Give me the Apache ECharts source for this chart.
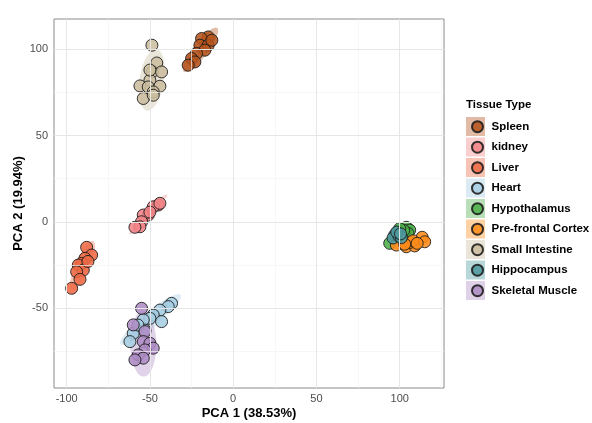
<!DOCTYPE html>
<html><head><meta charset="utf-8">
<script src="https://cdn.jsdelivr.net/npm/echarts@6/dist/echarts.min.js"></script>
<style>html,body{margin:0;padding:0;background:#fff}#c{width:592px;height:423px}</style>
</head><body><div id="c"></div>
<script>
// ---- data (PCA scores) ----
const tissues = ["Spleen","kidney","Liver","Heart","Hypothalamus","Pre-frontal Cortex","Small Intestine","Hippocampus","Skeletal Muscle"];
const colors = ["#B4541E","#F28487","#EE6A45","#A6CEE3","#4DAF4A","#FF8C1A","#CBBD9E","#4E9A9E","#AE8CC4"];
const spleen = [[-15,107.2],[-19,106.3],[-20,102.4],[-15,102.4],[-17,99.5],[-22,97.6],[-25,94.7],[-23,92.7],[-27,90.8],[-12.8,105.3]];
const kidney = [[-45,9.7],[-48,8.7],[-51,3.9],[-54,3.9],[-55,0],[-56,-2.9],[-59,-3.2],[-50,5.6],[-44,10.7]];
const liver = [[-88,-14.8],[-85,-19.3],[-89,-21.2],[-91,-24.1],[-93,-25.1],[-90,-28],[-94,-29],[-92,-33.4],[-97,-38.6],[-87.2,-23]];
const heart = [[-37,-47.3],[-39,-49.2],[-44,-51.2],[-48,-54.1],[-50,-56],[-43,-57.9],[-54,-56.9],[-53,-62.8],[-60,-64.7],[-62,-69.5],[-57.2,-59.9]];
const hypothalamus = [[94,-12.5],[99,-5.5],[104,-3.2],[106,-4.8],[103,-6.5],[101.5,-7.5],[105,-6.8],[102.4,-5],[100,-4]];
const prefrontal = [[98,-13.5],[104,-14.5],[109,-14],[113.5,-9],[115,-11.6],[106,-12],[108,-11],[110.5,-12.5],[103,-13]];
const smallIntestine = [[-48.8,102.4],[-45.9,92.1],[-48.6,86.9],[-43,86.9],[-50,82.1],[-56,78.8],[-51,78.2],[-44,78.6],[-48,75.3],[-54,71.5],[-48,73.4],[-50,88]];
const hippocampus = [[97,-7.7],[96,-9.4],[99.5,-8.3],[101,-9.2],[98.2,-6],[100.5,-7]];
const skeletalMuscle = [[-55,-50.2],[-60,-59.8],[-53,-63.7],[-54,-69.5],[-50,-70.5],[-48,-73.3],[-53,-74.3],[-57,-77.2],[-54,-79.1],[-59,-80.1]];
const groups = [spleen,kidney,liver,heart,hypothalamus,prefrontal,smallIntestine,hippocampus,skeletalMuscle];
const xTicks = [-100,-50,0,50,100];
const yTicks = [-50,0,50,100];
const xMinor = [-75,-25,25,75,125];
const yMinor = [-75,-25,25,75];
const xRange = [-107.6,126.6];
const yRange = [-96.4,117.6];

// ---- robust (multivariate t) ellipse, like stat_ellipse(type="t") ----
function covTrob(pts){
  const nu=5,p=2,n=pts.length;
  let w=new Array(n).fill(1), mx=0,my=0,a=1,b=0,c=1;
  for(let it=0;it<200;it++){
    let sw=0; mx=0; my=0;
    for(let i=0;i<n;i++){sw+=w[i];mx+=w[i]*pts[i][0];my+=w[i]*pts[i][1];}
    mx/=sw; my/=sw;
    a=0;b=0;c=0;
    for(let i=0;i<n;i++){const dx=pts[i][0]-mx,dy=pts[i][1]-my;a+=w[i]*dx*dx;b+=w[i]*dx*dy;c+=w[i]*dy*dy;}
    a/=n;b/=n;c/=n;
    const det=a*c-b*b;
    for(let i=0;i<n;i++){const dx=pts[i][0]-mx,dy=pts[i][1]-my;const q=(c*dx*dx-2*b*dx*dy+a*dy*dy)/det;w[i]=(nu+p)/(nu+q);}
  }
  return {mx,my,a,b,c};
}
const level=0.9;
function ellipse(pts){
  const n=pts.length, d=n-1;
  const f=(d/2)*(Math.pow(1-level,-2/d)-1);
  const r=Math.sqrt(2*f);
  const s=covTrob(pts);
  const r11=Math.sqrt(s.a), r12=s.b/r11, r22=Math.sqrt(Math.max(s.c-r12*r12,1e-9));
  const out=[];
  for(let k=0;k<=60;k++){const t=2*Math.PI*k/60,ct=Math.cos(t),st=Math.sin(t);
    out.push([s.mx+r*ct*r11, s.my+r*(ct*r12+st*r22)]);}
  return out;
}
const ellipses = groups.map(ellipse);

const font='"Liberation Sans", Arial, sans-serif';
const chart=echarts.init(document.getElementById('c'),null,{renderer:'canvas'});
const series=[];
series.push({
  type:'scatter', data:[], silent:true, z:1,
  markLine:{silent:true,symbol:'none',label:{show:false},animation:false,
    data:[
      ...xMinor.map(v=>({xAxis:v,lineStyle:{color:'#f3f3f3',width:0.7,type:'solid'}})),
      ...yMinor.map(v=>({yAxis:v,lineStyle:{color:'#f3f3f3',width:0.7,type:'solid'}})),
      ...xTicks.map(v=>({xAxis:v,lineStyle:{color:'#e6e6e6',width:1,type:'solid'}})),
      ...yTicks.map(v=>({yAxis:v,lineStyle:{color:'#e6e6e6',width:1,type:'solid'}}))
    ]}
});
series.push({
  type:'custom', z:2, silent:true, data:groups.map((g,i)=>[i]),
  renderItem:(params,api)=>{
    const gi=api.value(0);
    const pts=ellipses[gi].map(p=>api.coord(p));
    return {type:'polygon',shape:{points:pts},style:{fill:colors[gi],opacity:0.38,stroke:null}};
  }
});
tissues.forEach((t,i)=>{
  series.push({type:'scatter',name:t,data:groups[i],z:3,symbol:'circle',symbolSize:12,
    itemStyle:{color:colors[i],borderColor:'#1a1a1a',borderWidth:1,opacity:0.88}});
});
const legendRects = tissues.map((t,i)=>({type:'rect',left:466,top:117+i*20.5,shape:{width:19,height:19},style:{fill:colors[i],opacity:0.4},z:0}));
chart.setOption({
  animation:false,
  backgroundColor:'#fff',
  grid:{left:54,right:148,top:19,bottom:35,show:true,borderColor:'#8a8a8a',borderWidth:1,backgroundColor:'#fff',outerBoundsMode:'none',containLabel:false},
  title:{text:'Tissue Type',left:461,top:94,textStyle:{fontFamily:font,fontSize:11.5,fontWeight:'bold',color:'#000'}},
  legend:{orient:'vertical',left:466,top:114.7,itemWidth:18,itemHeight:11,itemGap:6.5,icon:'circle',
    data:tissues,textStyle:{fontFamily:font,fontSize:11.5,fontWeight:'bold',color:'#000',lineHeight:14},selectedMode:false},
  graphic:legendRects,
  xAxis:{type:'value',min:xRange[0],max:xRange[1],
    name:'PCA 1 (38.53%)',nameLocation:'middle',nameGap:19,nameMoveOverlap:false,
    nameTextStyle:{fontFamily:font,fontSize:13,fontWeight:'bold',color:'#000'},
    axisLine:{show:false},splitLine:{show:false},
    axisTick:{show:true,length:3,lineStyle:{color:'#8a8a8a'},customValues:xTicks},
    axisLabel:{fontFamily:font,fontSize:11,color:'#4d4d4d',margin:5,customValues:xTicks}},
  yAxis:{type:'value',min:yRange[0],max:yRange[1],
    name:'PCA 2 (19.94%)',nameLocation:'middle',nameGap:29,nameMoveOverlap:false,
    nameTextStyle:{fontFamily:font,fontSize:13,fontWeight:'bold',color:'#000'},
    axisLine:{show:false},splitLine:{show:false},
    axisTick:{show:true,length:3,lineStyle:{color:'#8a8a8a'},customValues:yTicks},
    axisLabel:{fontFamily:font,fontSize:11,color:'#4d4d4d',margin:6,customValues:yTicks}},
  series
});
</script></body></html>
